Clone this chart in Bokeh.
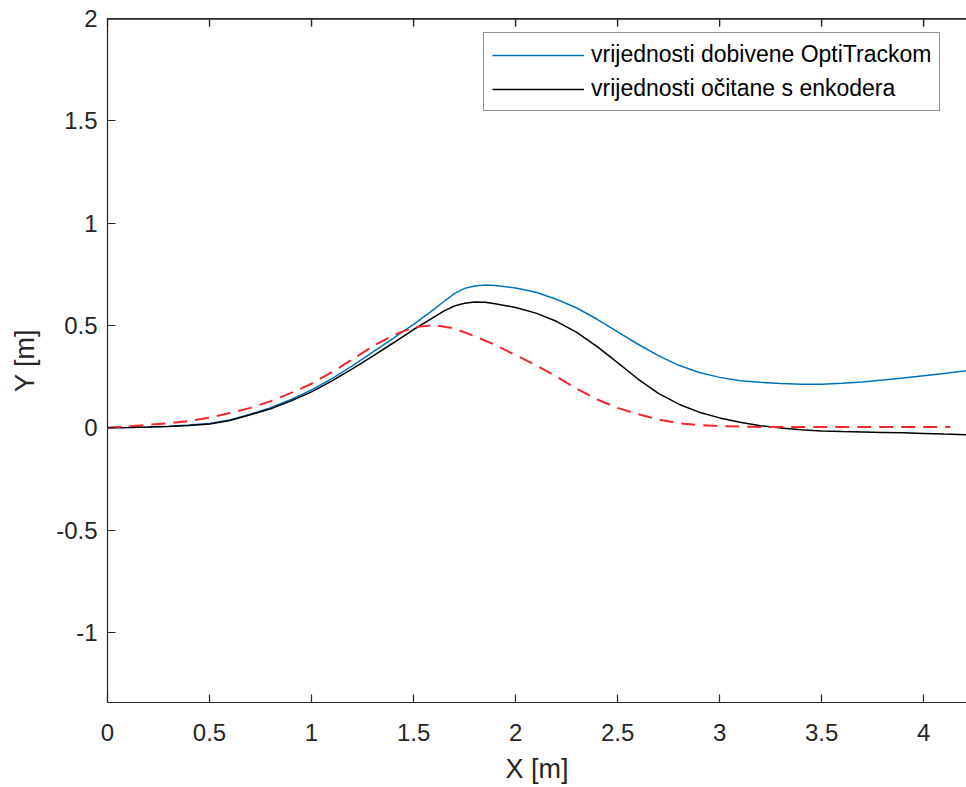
from bokeh.plotting import figure
from bokeh.models import Range1d, FixedTicker, LinearAxis, Legend, LegendItem, Span
from bokeh.embed import file_html
from bokeh.resources import INLINE

# --- data ---
x_opti = [0.0, 0.1, 0.2, 0.3, 0.4, 0.5, 0.6, 0.7, 0.8, 0.9, 1.0, 1.1, 1.2, 1.3, 1.4, 1.5, 1.6, 1.65,
          1.7, 1.75, 1.8, 1.85, 1.9, 2.0, 2.1, 2.2, 2.3, 2.4, 2.5, 2.6, 2.7, 2.8, 2.9, 3.0, 3.1, 3.2,
          3.3, 3.4, 3.5, 3.6, 3.7, 3.8, 3.9, 4.0, 4.1, 4.21]
y_opti = [0.0, 0.001, 0.003, 0.007, 0.013, 0.021, 0.038, 0.066, 0.098, 0.138, 0.185, 0.240, 0.302,
          0.370, 0.437, 0.505, 0.578, 0.618, 0.655, 0.681, 0.693, 0.697, 0.695, 0.683, 0.662, 0.628,
          0.585, 0.530, 0.468, 0.408, 0.352, 0.305, 0.270, 0.246, 0.230, 0.222, 0.216, 0.213, 0.213,
          0.217, 0.224, 0.233, 0.243, 0.254, 0.265, 0.279]

x_enc = [0.0, 0.1, 0.2, 0.3, 0.4, 0.5, 0.6, 0.7, 0.8, 0.9, 1.0, 1.1, 1.2, 1.3, 1.4, 1.5, 1.6, 1.65,
         1.7, 1.75, 1.8, 1.85, 1.9, 2.0, 2.1, 2.2, 2.3, 2.4, 2.5, 2.6, 2.7, 2.8, 2.9, 3.0, 3.1, 3.2,
         3.3, 3.4, 3.5, 3.6, 3.7, 3.8, 3.9, 4.0, 4.1, 4.21]
y_enc = [0.0, 0.001, 0.003, 0.006, 0.011, 0.018, 0.035, 0.063, 0.093, 0.131, 0.175, 0.229, 0.288,
         0.350, 0.414, 0.480, 0.541, 0.571, 0.595, 0.608, 0.614, 0.613, 0.606, 0.588, 0.560, 0.520,
         0.466, 0.396, 0.318, 0.238, 0.168, 0.115, 0.076, 0.048, 0.027, 0.010, -0.002, -0.010,
         -0.016, -0.019, -0.021, -0.023, -0.025, -0.028, -0.031, -0.034]

x_ref = [0.0, 0.1, 0.2, 0.3, 0.4, 0.5, 0.6, 0.7, 0.8, 0.9, 1.0, 1.1, 1.2, 1.3, 1.4, 1.5, 1.6, 1.7,
         1.8, 1.9, 2.0, 2.1, 2.2, 2.3, 2.4, 2.5, 2.6, 2.7, 2.8, 2.9, 3.0, 3.2, 3.5, 4.13]
y_ref = [0.0, 0.007, 0.014, 0.022, 0.033, 0.049, 0.072, 0.097, 0.130, 0.170, 0.215, 0.272, 0.334,
         0.398, 0.452, 0.490, 0.502, 0.485, 0.447, 0.405, 0.355, 0.305, 0.250, 0.190, 0.138, 0.097,
         0.066, 0.040, 0.022, 0.013, 0.008, 0.004, 0.003, 0.003]

x_ticks = [0, 0.5, 1, 1.5, 2, 2.5, 3, 3.5, 4]
x_tick_labels = ["0", "0.5", "1", "1.5", "2", "2.5", "3", "3.5", "4"]
y_ticks = [-1, -0.5, 0, 0.5, 1, 1.5, 2]
y_tick_labels = ["-1", "-0.5", "0", "0.5", "1", "1.5", "2"]

series_names = ["vrijednosti dobivene OptiTrackom", "vrijednosti očitane s enkodera"]

FONT = "Liberation Sans"
TXT = "#262626"
Y_MIN, Y_MAX = -1.343, 2.0
FRAME_H = 684
TICK_PX = 8

p = figure(frame_width=859, frame_height=FRAME_H,
           x_range=Range1d(0, 4.21), y_range=Range1d(Y_MIN, Y_MAX),
           output_backend="svg", toolbar_location=None,
           min_border_left=107, min_border_right=0, min_border_top=18, min_border_bottom=85,
           background_fill_color="white", border_fill_color="white")
p.outline_line_color = None
p.grid.visible = False

def style_axis(ax):
    ax.axis_line_color = TXT
    ax.axis_line_width = 1.2
    ax.major_tick_line_color = TXT
    ax.major_tick_line_width = 1.2
    ax.major_tick_in = TICK_PX
    ax.major_tick_out = 0
    ax.minor_tick_line_color = None
    ax.major_label_text_font = FONT
    ax.major_label_text_color = TXT
    ax.axis_label_text_font = FONT
    ax.axis_label_text_color = TXT
    ax.axis_label_text_font_style = "normal"

xa = p.xaxis[0]
ya = p.yaxis[0]
style_axis(xa)
style_axis(ya)
xa.ticker = FixedTicker(ticks=x_ticks)
ya.ticker = FixedTicker(ticks=y_ticks)
xa.major_label_overrides = {t: l for t, l in zip(x_ticks, x_tick_labels)}
ya.major_label_overrides = {t: l for t, l in zip(y_ticks, y_tick_labels)}
xa.major_label_text_font_size = "24px"
ya.major_label_text_font_size = "24px"
xa.major_label_standoff = 21
ya.major_label_standoff = 10
xa.axis_label = "X [m]"
ya.axis_label = "Y [m]"
xa.axis_label_text_font_size = "27px"
ya.axis_label_text_font_size = "27px"
xa.axis_label_standoff = 10
ya.axis_label_standoff = 13

# top box edge with inward ticks (MATLAB "box on")
top = LinearAxis(ticker=FixedTicker(ticks=x_ticks))
style_axis(top)
top.major_label_text_font_size = "6px"
top.major_label_standoff = 0
top.major_label_overrides = {t: " " for t in x_ticks}
p.add_layout(top, "above")
p.add_layout(Span(location=Y_MAX, dimension="width", line_color=TXT, line_width=2.4))
tick_len = TICK_PX * (Y_MAX - Y_MIN) / FRAME_H
p.segment(x0=x_ticks, y0=[Y_MAX] * len(x_ticks), x1=x_ticks,
          y1=[Y_MAX - tick_len] * len(x_ticks), line_color=TXT, line_width=1.2)

r1 = p.line(x_opti, y_opti, line_color="#0072BD", line_width=1.5)
r2 = p.line(x_enc, y_enc, line_color="#000000", line_width=1.5)
r3 = p.line(x_ref, y_ref, line_color="#F0282D", line_width=2, line_dash="14 8")

legend = Legend(items=[LegendItem(label=series_names[0], renderers=[r1]),
                       LegendItem(label=series_names[1], renderers=[r2])],
                location=(376, 591))
legend.label_text_font = FONT
legend.label_text_font_size = "23px"
legend.label_text_color = "#000000"
legend.glyph_width = 92
legend.glyph_height = 24
legend.label_height = 24
legend.label_standoff = 7
legend.padding = 8
legend.spacing = 7
legend.margin = 0
legend.border_line_color = TXT
legend.border_line_width = 1.2
legend.background_fill_color = "white"
legend.background_fill_alpha = 1.0
p.add_layout(legend, "center")

open("out.html", "w").write(file_html(p, INLINE))
